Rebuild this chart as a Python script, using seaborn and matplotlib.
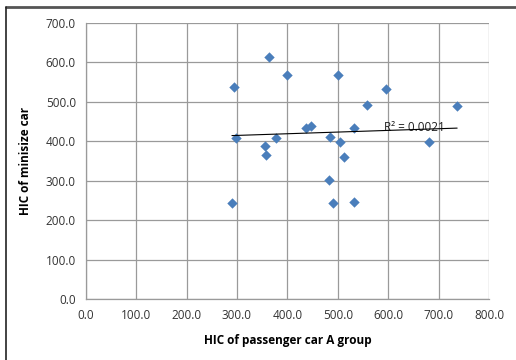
import matplotlib
matplotlib.use("Agg")
import matplotlib.pyplot as plt
import seaborn as sns
import pandas as pd
import numpy as np
from matplotlib.lines import Line2D

passenger_hic = [295, 298.6, 290, 363.5, 398.5, 499.7, 594.9, 558.5, 736.5,
                 437.5, 446, 531.4, 378, 356, 357.5, 483.5, 503.6, 513, 681.5,
                 482.5, 489.7, 531.4]
minisize_hic = [536, 407, 244, 612, 568, 567, 532, 492, 488,
                432, 439, 432, 408, 388, 364, 410, 397, 360, 397,
                302, 244, 246]
x_ticks = [0, 100, 200, 300, 400, 500, 600, 700, 800]
y_ticks = [0, 100, 200, 300, 400, 500, 600, 700]
r2_label = "R² = 0.0021"

df = pd.DataFrame({"x": passenger_hic, "y": minisize_hic})

sns.set_style("white")
plt.rcParams['font.family'] = ['Open Sans', 'DejaVu Sans']

fig = plt.figure(figsize=(5.16, 3.6), dpi=100)
ax = fig.add_axes([0.166, 0.1694, 0.948 - 0.166, 0.9375 - 0.1694])

grid_c = "#9a9a9a"
ax.set_axisbelow(True)
ax.grid(True, color=grid_c, lw=0.9)

sns.scatterplot(data=df, x="x", y="y", marker="D", s=28, color="#4a7ebb",
                edgecolor="#4a7ebb", linewidth=0, ax=ax, zorder=3)
sns.regplot(data=df, x="x", y="y", scatter=False, ci=None, ax=ax,
            line_kws=dict(color="black", lw=0.8, zorder=4))

ax.set_xlim(0, 800)
ax.set_ylim(0, 700)
ax.set_xticks(x_ticks)
ax.set_yticks(y_ticks)
ax.set_xticklabels([f"{v:.1f}" for v in x_ticks])
ax.set_yticklabels([f"{v:.1f}" for v in y_ticks])
ax.tick_params(axis="both", labelsize=8.5, colors="#333333", length=4,
               width=0.9, direction="out", pad=3)
ax.tick_params(axis="both", color=grid_c)
for s in ["left", "bottom"]:
    ax.spines[s].set_color(grid_c)
    ax.spines[s].set_linewidth(0.9)
for s in ["top", "right"]:
    ax.spines[s].set_visible(False)

ax.set_xlabel("HIC of passenger car A group", fontsize=8.5, fontweight="bold",
              color="black", labelpad=9)
ax.set_ylabel("HIC of minisize car", fontsize=8.5, fontweight="bold",
              color="black", labelpad=10)

ax.text(592, 435, r2_label, fontsize=8.5, color="#222222", va="center",
        ha="left", zorder=2)

fig.add_artist(Line2D([6 / 516, 1.0], [1 - 7 / 360, 1 - 7 / 360],
                      transform=fig.transFigure, color="#555555", lw=2))
fig.add_artist(Line2D([6 / 516, 6 / 516], [0, 1 - 7 / 360],
                      transform=fig.transFigure, color="#222222", lw=1.2))

fig.savefig("out.png", dpi=100)
